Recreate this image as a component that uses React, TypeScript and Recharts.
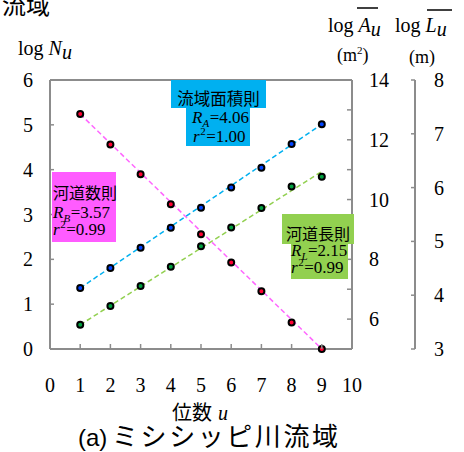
import React from "react"
import {
  ComposedChart,
  Line,
  XAxis,
  YAxis,
  ReferenceLine,
} from "recharts"

// stream order u
const orders = [1, 2, 3, 4, 5, 6, 7, 8, 9]
// log of stream number N_u
const logN = [5.24, 4.56, 3.9, 3.23, 2.56, 1.93, 1.29, 0.59, 0.0]
// log of mean basin area A_u (m^2)
const logA = [7.04, 7.71, 8.39, 9.06, 9.73, 10.4, 11.06, 11.86, 12.52]
// log of mean stream length L_u (m)
const logL = [3.45, 3.8, 4.17, 4.53, 4.91, 5.26, 5.62, 6.02, 6.2]

// fitted lines, end points at u = 1 and u = 9
const fitOrders = [1, 9]
const fitN = [5.24, 0.0]
const fitA = [7.04, 12.52]
const fitL = [3.45, 6.3]

const xTicks = [0, 1, 2, 3, 4, 5, 6, 7, 8, 9, 10]
const nTicks = [0, 1, 2, 3, 4, 5, 6]
const aTicks = [5, 6, 7, 8, 9, 10, 11, 12, 13, 14]
const lTicks = [3, 4, 5, 6, 7, 8]

const GRAY = "#8c8c8c"
const SERIF = "Liberation Serif, Noto Sans CJK JP, serif"
const CJK = "Noto Sans CJK JP, sans-serif"

const fitAt = (u: number, vals: number[]) => {
  const i = fitOrders.indexOf(u)
  return i >= 0 ? vals[i] : null
}

const data = orders.map((u, i) => ({
  u,
  n: logN[i],
  a: logA[i],
  l: logL[i],
  nFit: fitAt(u, fitN),
  aFit: fitAt(u, fitA),
  lFit: fitAt(u, fitL),
}))

function TickText({ x, y, anchor, v }: any) {
  return (
    <text x={x} y={y} dy="0.35em" textAnchor={anchor} fontFamily={SERIF} fontSize={20} fill="#000">
      {v}
    </text>
  )
}

function XTick({ x, y, payload }: any) {
  const axisY = y - 36
  const v = payload.value
  return (
    <g>
      {v > 0 && v < 10 && (
        <line x1={x} x2={x} y1={axisY} y2={axisY - 5} stroke={GRAY} strokeWidth={1.5} />
      )}
      <TickText x={x} y={y} anchor="middle" v={v} />
    </g>
  )
}

function NTick({ x, y, payload }: any) {
  const axisX = x + 17
  const v = payload.value
  return (
    <g>
      {v > 0 && v < 6 && (
        <line x1={axisX} x2={axisX + 4} y1={y} y2={y} stroke={GRAY} strokeWidth={1.5} />
      )}
      <TickText x={x} y={y} anchor="end" v={v} />
    </g>
  )
}

function ATick({ x, y, payload }: any) {
  const axisX = x - 17
  const v = payload.value
  return (
    <g>
      {v > 5 && v < 14 && (
        <line x1={axisX - 5} x2={axisX} y1={y} y2={y} stroke={GRAY} strokeWidth={1.5} />
      )}
      {v % 2 === 0 && <TickText x={x} y={y} anchor="start" v={v} />}
    </g>
  )
}

function LTick({ x, y, payload }: any) {
  const axisX = x - 19
  return (
    <g>
      <line x1={axisX - 4} x2={axisX} y1={y} y2={y} stroke={GRAY} strokeWidth={1.5} />
      <TickText x={x} y={y} anchor="start" v={payload.value} />
    </g>
  )
}

function Ratio({ x, y, sub, value }: { x: number; y: number; sub: string; value: string }) {
  return (
    <text x={x} y={y} fontFamily={SERIF} fontSize={17}>
      <tspan fontStyle="italic">R</tspan>
      <tspan fontStyle="italic" fontSize={11} dy={4}>{sub}</tspan>
      <tspan dx={0.5} dy={-4}>={value}</tspan>
    </text>
  )
}

function R2({ x, y, value }: { x: number; y: number; value: string }) {
  return (
    <text x={x} y={y} fontFamily={SERIF} fontSize={17}>
      <tspan fontStyle="italic">r</tspan>
      <tspan fontSize={11} dx={0.5} dy={-7}>2</tspan>
      <tspan dx={0.5} dy={7}>={value}</tspan>
    </text>
  )
}

function Annotations() {
  return (
    <svg
      width={464}
      height={452}
      style={{ position: "absolute", left: 0, top: 0, pointerEvents: "none" }}
    >
      {/* title, cut off at the top edge as in the source figure */}
      <text x={2} y={14} fontFamily={CJK} fontSize={24}>流域</text>

      {/* axis titles */}
      <text x={18} y={55} fontFamily={SERIF} fontSize={20}>
        log <tspan fontStyle="italic">N</tspan>
        <tspan fontStyle="italic" dy={4}>u</tspan>
      </text>
      <text x={328} y={32} fontFamily={SERIF} fontSize={20}>
        log <tspan fontStyle="italic">A</tspan>
        <tspan fontStyle="italic" dy={4}>u</tspan>
      </text>
      <line x1={357} x2={378} y1={8} y2={8} stroke="#000" strokeWidth={1.5} />
      <text x={337} y={61} fontFamily={SERIF} fontSize={18}>
        (m<tspan fontSize={11} dy={-7}>2</tspan>
        <tspan dy={7}>)</tspan>
      </text>
      <text x={395} y={32} fontFamily={SERIF} fontSize={20}>
        log <tspan fontStyle="italic">L</tspan>
        <tspan fontStyle="italic" dy={4}>u</tspan>
      </text>
      <line x1={427} x2={452} y1={10} y2={10} stroke="#000" strokeWidth={1.5} />
      <text x={409} y={63} fontFamily={SERIF} fontSize={18}>(m)</text>

      <text x={172} y={420} fontFamily={CJK} fontSize={20}>位数</text>
      <text x={218} y={420} fontFamily={SERIF} fontSize={20} fontStyle="italic">u</text>
      <text x={78} y={446} fontFamily="Liberation Sans, sans-serif" fontSize={24}>(a)</text>
      <text x={112} y={446} textLength={226} lengthAdjust="spacing" fontFamily={CJK} fontSize={26}>
        ミシシッピ川流域
      </text>

      {/* 流域面積則 */}
      <rect x={171} y={80} width={95} height={28} fill="#00b0f0" />
      <rect x={186} y={107} width={64} height={39} fill="#00b0f0" />
      <text x={218.5} y={105} textAnchor="middle" fontFamily={CJK} fontSize={16.5}>流域面積則</text>
      <Ratio x={192} y={123} sub="A" value="4.06" />
      <R2 x={193} y={142} value="1.00" />

      {/* 河道数則 */}
      <rect x={52} y={172} width={64} height={70} fill="#ff5cff" />
      <text x={53} y={199} fontFamily={CJK} fontSize={16}>河道数則</text>
      <Ratio x={53} y={218} sub="B" value="3.57" />
      <R2 x={53} y={235} value="0.99" />

      {/* 河道長則 */}
      <rect x={282} y={214} width={72} height={30} fill="#92d050" />
      <rect x={291} y={243} width={57} height={36} fill="#92d050" />
      <text x={318} y={240} textAnchor="middle" fontFamily={CJK} fontSize={16}>河道長則</text>
      <Ratio x={291} y={256} sub="L" value="2.15" />
      <R2 x={291} y={273} value="0.99" />
    </svg>
  )
}

const dot = (fill: string) => ({ r: 3, fill, stroke: "#000", strokeWidth: 2 })

export default function App() {
  return (
    <div style={{ position: "absolute", left: 0, top: 0, width: 464, height: 452, background: "#fff" }}>
      <ComposedChart
        width={464}
        height={452}
        data={data}
        margin={{ top: 80, right: 0, bottom: 63, left: 0 }}
      >
        <XAxis
          dataKey="u"
          type="number"
          domain={[0, 10]}
          ticks={xTicks}
          interval={0}
          height={40}
          axisLine={{ stroke: GRAY, strokeWidth: 2 }}
          tickLine={false}
          tickSize={0}
          tickMargin={36}
          tick={(p: any) => <XTick {...p} />}
        />
        <YAxis
          yAxisId="N"
          orientation="left"
          width={50}
          domain={[0, 6]}
          ticks={nTicks}
          interval={0}
          axisLine={{ stroke: GRAY, strokeWidth: 2 }}
          tickLine={false}
          tickSize={0}
          tickMargin={17}
          tick={(p: any) => <NTick {...p} />}
        />
        <YAxis
          yAxisId="A"
          orientation="right"
          width={63}
          domain={[5, 14]}
          ticks={aTicks}
          interval={0}
          axisLine={{ stroke: GRAY, strokeWidth: 2 }}
          tickLine={false}
          tickSize={0}
          tickMargin={17}
          tick={(p: any) => <ATick {...p} />}
        />
        <YAxis
          yAxisId="L"
          orientation="right"
          width={49}
          domain={[3, 8]}
          ticks={lTicks}
          interval={0}
          axisLine={{ stroke: GRAY, strokeWidth: 2 }}
          tickLine={false}
          tickSize={0}
          tickMargin={19}
          tick={(p: any) => <LTick {...p} />}
        />
        <ReferenceLine yAxisId="N" y={6} stroke={GRAY} strokeWidth={2} />

        <Line yAxisId="N" dataKey="nFit" stroke="#ff66ff" strokeWidth={1.5} strokeDasharray="5 3" dot={false} connectNulls isAnimationActive={false} />
        <Line yAxisId="A" dataKey="aFit" stroke="#00b0f0" strokeWidth={1.5} strokeDasharray="5 3" dot={false} connectNulls isAnimationActive={false} />
        <Line yAxisId="L" dataKey="lFit" stroke="#92d050" strokeWidth={1.5} strokeDasharray="5 3" dot={false} connectNulls isAnimationActive={false} />

        <Line yAxisId="N" dataKey="n" stroke="none" dot={dot("#ff0033")} isAnimationActive={false} />
        <Line yAxisId="A" dataKey="a" stroke="none" dot={dot("#0044ff")} isAnimationActive={false} />
        <Line yAxisId="L" dataKey="l" stroke="none" dot={dot("#00a040")} isAnimationActive={false} />
      </ComposedChart>
      <Annotations />
    </div>
  )
}
